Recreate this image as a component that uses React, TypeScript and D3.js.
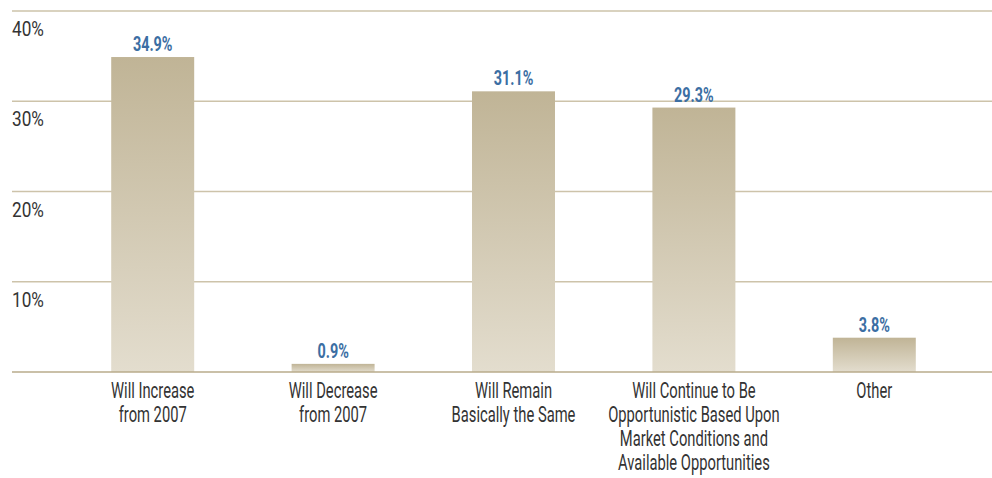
import { useEffect, useRef } from "react";
import * as d3 from "d3";

const categories = [
  ["Will Increase", "from 2007"],
  ["Will Decrease", "from 2007"],
  ["Will Remain", "Basically the Same"],
  ["Will Continue to Be", "Opportunistic Based Upon", "Market Conditions and", "Available Opportunities"],
  ["Other"],
];
const values = [34.9, 0.9, 31.1, 29.3, 3.8];
const yTicks = [10, 20, 30, 40];

const FONT = "Roboto, 'Liberation Sans', sans-serif";

export default function App() {
  const svgRef = useRef<SVGSVGElement>(null);

  useEffect(() => {
    document.body.style.margin = "0";
    if (!svgRef.current) return;
    const width = 992;
    const height = 478;
    const svg = d3.select(svgRef.current);
    svg.selectAll("*").remove();

    const keys = categories.map((c) => c.join(" "));
    const x = d3.scaleBand().domain(keys).range([62.5, 964.5]).paddingInner(0.54).paddingOuter(0.27);
    const y = d3.scaleLinear().domain([0, 40]).range([372, 11]);
    const cx = (i: number) => x(keys[i])! + x.bandwidth() / 2;

    const defs = svg.append("defs");
    const grad = defs
      .append("linearGradient")
      .attr("id", "barGrad")
      .attr("x1", "0%")
      .attr("y1", "0%")
      .attr("x2", "0%")
      .attr("y2", "100%");
    grad.append("stop").attr("offset", "0%").attr("stop-color", "#c0b496");
    grad.append("stop").attr("offset", "100%").attr("stop-color", "#e3ddce");

    // gridlines
    svg
      .append("g")
      .selectAll("line")
      .data(yTicks)
      .join("line")
      .attr("x1", 12)
      .attr("x2", width)
      .attr("y1", (d) => y(d))
      .attr("y2", (d) => y(d))
      .attr("stroke", "#cdc3aa")
      .attr("stroke-width", 1.5);

    // y labels (condensed by horizontal scale)
    svg
      .append("g")
      .selectAll("text")
      .data(yTicks)
      .join("text")
      .attr("transform", (d) => `translate(12,${y(d) + 25}) scale(0.86,1)`)
      .attr("fill", "#333")
      .attr("font-family", FONT)
      .attr("font-size", 20)
      .text((d) => `${d}%`);

    // bars
    svg
      .append("g")
      .selectAll("rect")
      .data(values)
      .join("rect")
      .attr("x", (_, i) => x(keys[i])!)
      .attr("width", x.bandwidth())
      .attr("y", (d) => y(d))
      .attr("height", (d) => y(0) - y(d))
      .attr("fill", "url(#barGrad)");

    // baseline
    svg
      .append("line")
      .attr("x1", 12)
      .attr("x2", width)
      .attr("y1", y(0))
      .attr("y2", y(0))
      .attr("stroke", "#b8ab8b")
      .attr("stroke-width", 1.5);

    // value labels
    svg
      .append("g")
      .selectAll("text")
      .data(values)
      .join("text")
      .attr("transform", (d, i) => `translate(${cx(i)},${y(d) - 6}) scale(0.72,1)`)
      .attr("text-anchor", "middle")
      .attr("fill", "#3b6ea3")
      .attr("font-family", FONT)
      .attr("font-weight", 700)
      .attr("font-size", 20)
      .text((d) => `${d.toFixed(1)}%`);

    // category labels
    const cat = svg
      .append("g")
      .selectAll("text")
      .data(categories)
      .join("text")
      .attr("transform", (_, i) => `translate(${cx(i)},${y(0) + 25.5}) scale(0.67,1)`)
      .attr("text-anchor", "middle")
      .attr("fill", "#333")
      .attr("font-family", FONT)
      .attr("font-size", 22);
    cat
      .selectAll("tspan")
      .data((d) => d)
      .join("tspan")
      .attr("x", 0)
      .attr("dy", (_, i) => (i === 0 ? 0 : 24.3))
      .text((d) => d);

    svg.attr("width", width).attr("height", height);
  }, []);

  return <svg ref={svgRef} width={992} height={478} style={{ display: "block" }} />;
}
